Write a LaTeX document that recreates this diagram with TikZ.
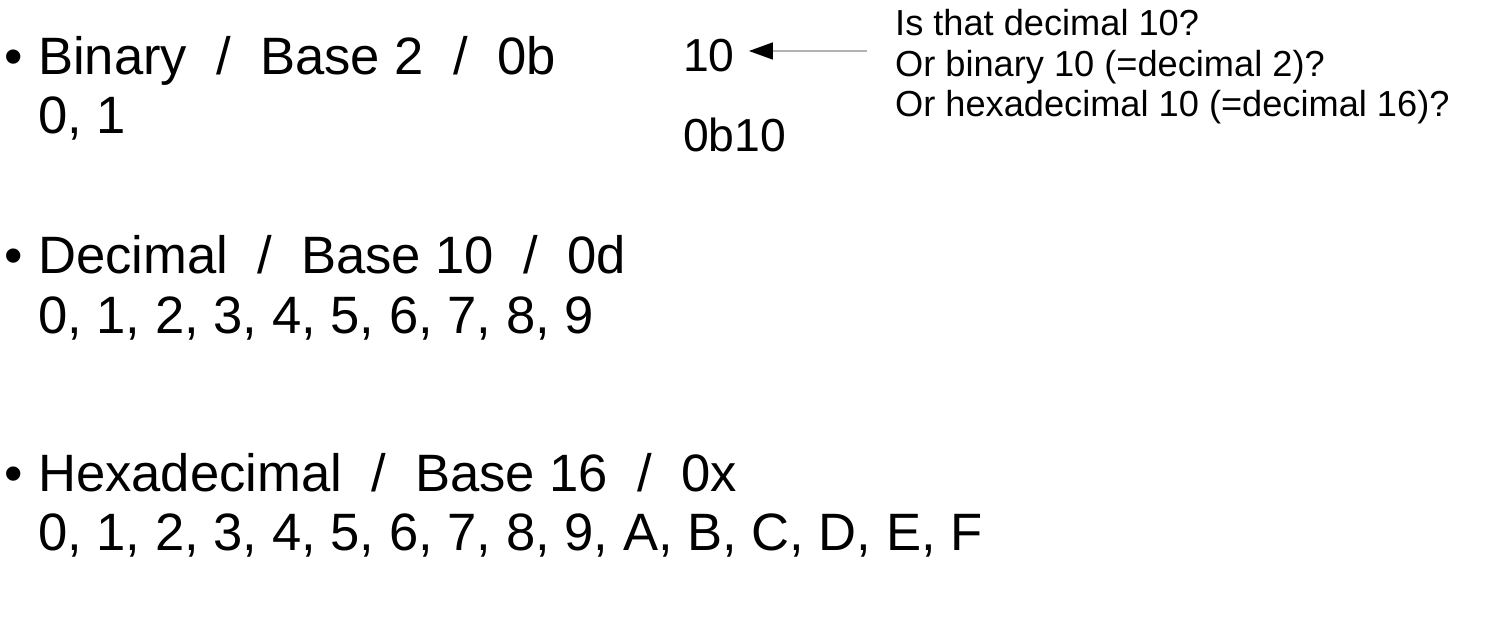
\documentclass[tikz,border=0pt]{standalone}
\usepackage{fontspec}
\setmainfont{Liberation Sans}
\usetikzlibrary{arrows.meta}

\begin{document}
\begin{tikzpicture}[x=1pt, y=-1pt,
    item/.style ={anchor=base west, inner sep=0pt, font=\fontsize{52.6}{60}\selectfont},
    sample/.style ={anchor=base west, inner sep=0pt, font=\fontsize{46.3}{54}\selectfont},
    question/.style ={anchor=base west, inner sep=0pt, font=\fontsize{36.2}{40}\selectfont}]
   \useasboundingbox[fill=white] (0,0) rectangle (1501,632);
   % the three number systems
   \node[item] (b1) at (4,74)  {•};
   \node[item] (bin) at (38,74)  {Binary~~/~~Base 2~~/~~0b};
   \node[item] (bindig) at (38,133)  {0, 1};
   \node[item] (b2) at (4,273)  {•};
   \node[item] (dec) at (38,273)  {Decimal~~/~~Base 10~~/~~0d};
   \node[item] (decdig) at (38,333)  {0, 1, 2, 3, 4, 5, 6, 7, 8, 9};
   \node[item] (b3) at (4,491)  {•};
   \node[item] (hex) at (38,491)  {Hexadecimal~~/~~Base 16~~/~~0x};
   \node[item] (hexdig) at (38,550)  {0, 1, 2, 3, 4, 5, 6, 7, 8, 9, A, B, C, D, E, F};
   % the ambiguous example
   \node[sample] (ten) at (683,71)  {10};
   \node[sample] (tenb) at (683,151)  {0b10};
   \node[question] (q1) at (895,35)  {Is that decimal 10?};
   \node[question] (q2) at (895,76)  {Or binary 10 (=decimal 2)?};
   \node[question] (q3) at (895,116)  {Or hexadecimal 10 (=decimal 16)?};
   \coordinate (qarrow) at (867,51);
   \draw[gray!60, line width=1.5pt, shorten >=14pt,
     -{Triangle[length=24pt, width=17pt, black]}] (qarrow) to  (qarrow -| ten.east);
 \end{tikzpicture}
\end{document}
